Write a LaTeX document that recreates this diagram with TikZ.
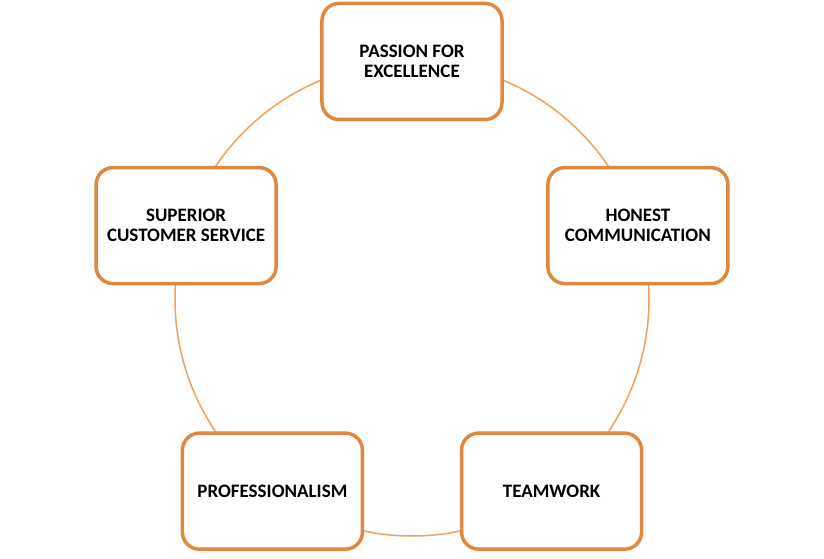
\documentclass[tikz,border=0pt]{standalone}
\usepackage{fontspec}
\setmainfont{Carlito}
\usepackage{xcolor}
\usetikzlibrary{positioning}
\definecolor{boxorange}{RGB}{224,136,62}
\definecolor{ringorange}{RGB}{244,160,90}
\tikzstyle{valuebox} = [rectangle, rounded corners=17pt, minimum width=180pt, minimum height=116pt, text centered, align=center, draw=boxorange, line width=3.5pt, fill=white, font=\fontsize{19}{20}\selectfont\bfseries]
\tikzstyle{ringline} = [circle, draw=ringorange, line width=1.5pt, minimum size=474pt, inner sep=0pt]

\begin{document}
\begin{tikzpicture}[x=1pt,y=1pt]
		\useasboundingbox (-412,-260) rectangle (412,299);
		\node (ring) [ringline] at (0,0) {};
		\node (pass) [valuebox] at (90:237.5pt) {PASSION FOR\\EXCELLENCE};
		\node (hon) [valuebox] at (18:237.5pt) {HONEST\\COMMUNICATION};
		\node (team) [valuebox] at (-54:237.5pt) {TEAMWORK};
		\node (prof) [valuebox] at (234:237.5pt) {PROFESSIONALISM};
		\node (sup) [valuebox] at (162:237.5pt) {SUPERIOR\\CUSTOMER SERVICE};
	\end{tikzpicture}
\end{document}
